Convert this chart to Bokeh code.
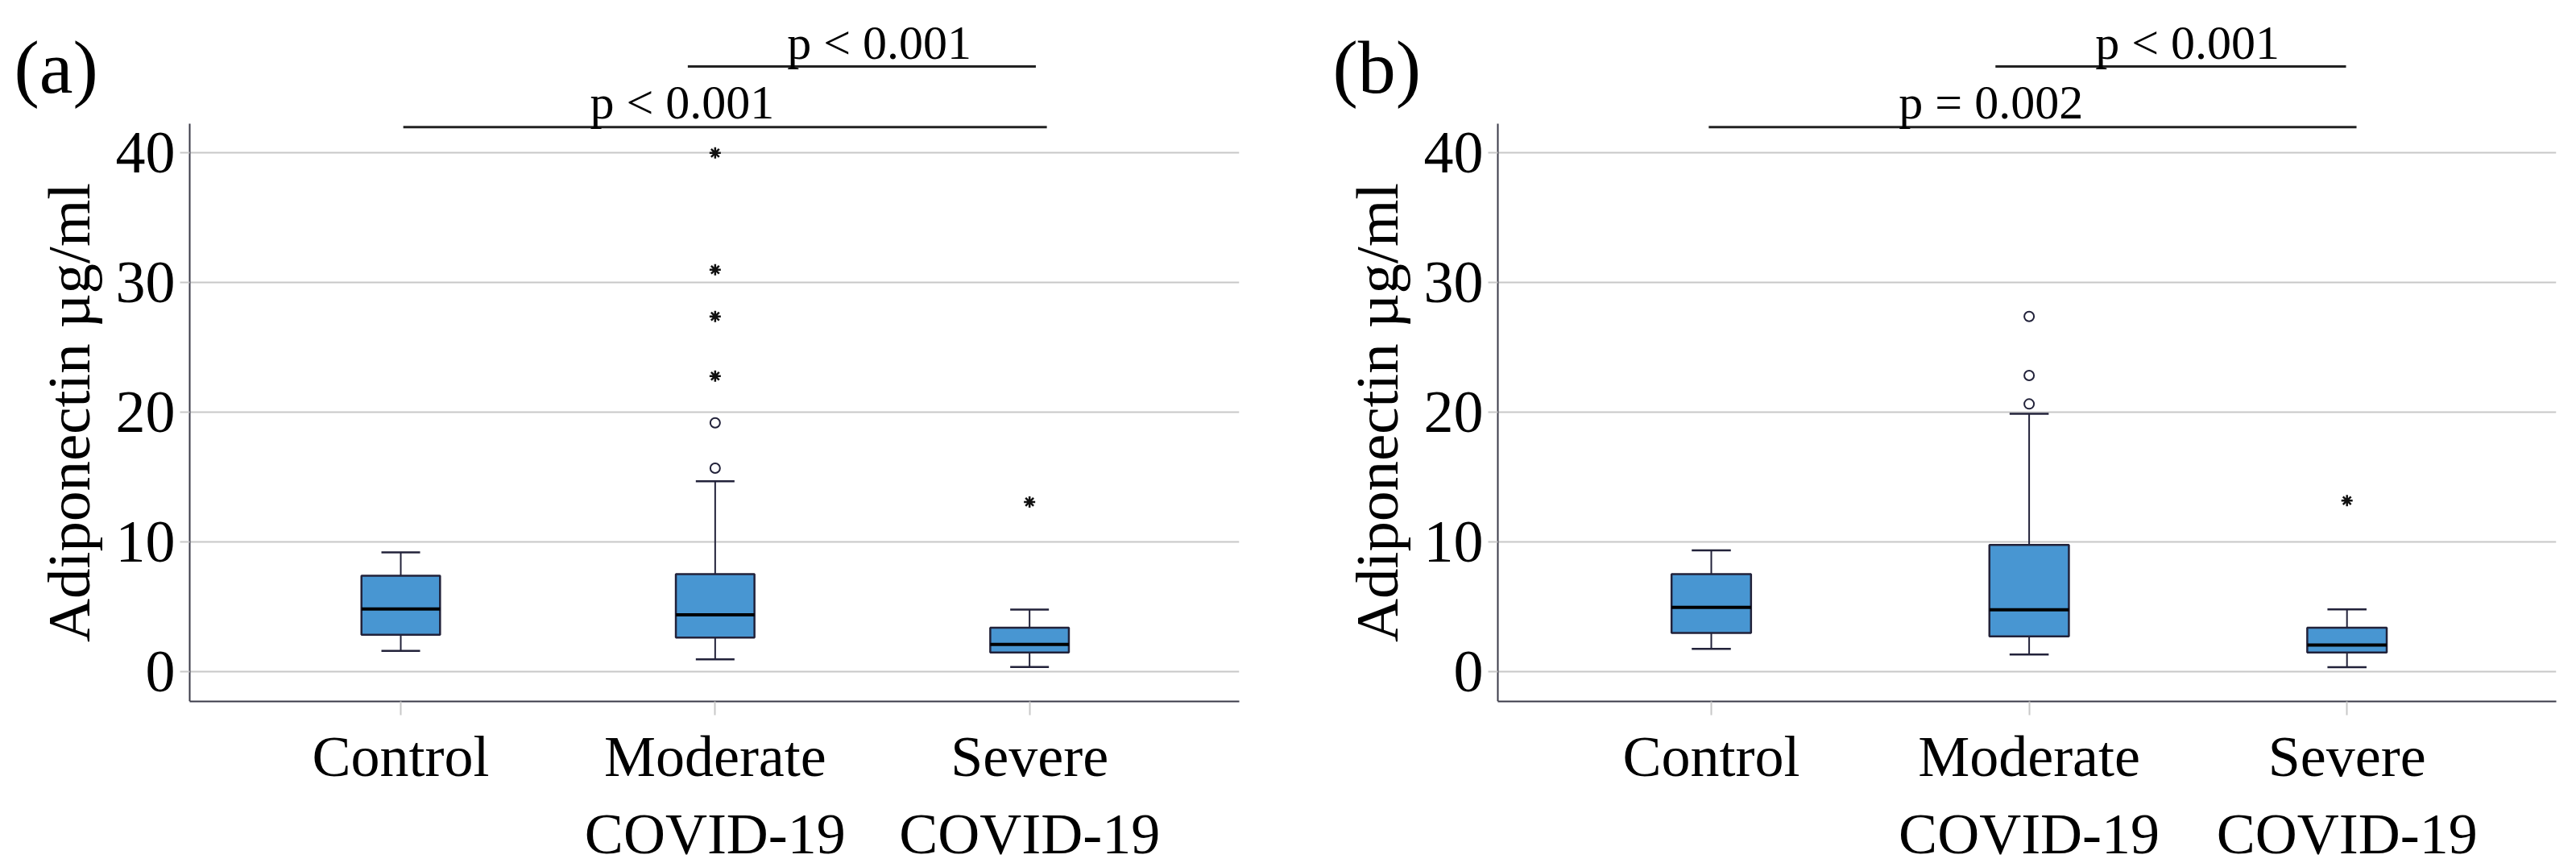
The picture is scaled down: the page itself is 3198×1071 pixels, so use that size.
from bokeh.plotting import figure
from bokeh.models import Range1d
from bokeh.layouts import row
from bokeh.embed import file_html
from bokeh.resources import INLINE
from bokeh.core.properties import value

# ---------------- data ----------------
positions = [1, 2, 3]
categories = ["Control", "Moderate\nCOVID-19", "Severe\nCOVID-19"]
y_ticks = [0, 10, 20, 30, 40]
y_label = "Adiponectin µg/ml"

# panel (a)
a_low = [1.61, 0.97, 0.37]
a_q1 = [2.86, 2.65, 1.49]
a_med = [4.84, 4.39, 2.11]
a_q3 = [7.41, 7.53, 3.41]
a_high = [9.21, 14.7, 4.80]
a_circle_x = [2, 2]
a_circle_y = [19.2, 15.7]
a_star_x = [2, 2, 2, 2, 3]
a_star_y = [40.0, 31.0, 27.4, 22.8, 13.1]
a_sig_text = ["p < 0.001", "p < 0.001"]

# panel (b)
b_low = [1.78, 1.34, 0.36]
b_q1 = [3.00, 2.73, 1.49]
b_med = [4.97, 4.78, 2.07]
b_q3 = [7.53, 9.79, 3.41]
b_high = [9.36, 19.9, 4.81]
b_circle_x = [2, 2, 2]
b_circle_y = [27.4, 22.85, 20.65]
b_star_x = [3]
b_star_y = [13.2]
b_sig_text = ["p = 0.002", "p < 0.001"]

# ---------------- layout / style ----------------
FONT = "Liberation Serif"
BOX_FILL = "#4896d2"
BOX_LINE = "#22223a"
GRID = "#c8c8c8"
AXIS = "#3a3a48"
Y_BOTTOM, Y_AXIS_TOP, Y_TOP = -2.28, 42.24, 51.76
BOX_W = 0.25
CAP_HALF = 0.0615

geom_a = dict(fw=1538, xr=(-0.2734, 3.667), rb=22, axis_x=0.3287, tag="(a)", tag_x=-0.2298,
              bars=[(1.008, 3.055, 42.0), (1.913, 3.02, 46.67)],
              texts=[(1.895, 43.92), (2.522, 48.53)])
geom_b = dict(fw=1613, xr=(-0.4293, 3.6584), rb=10, axis_x=0.3284, tag="(b)", tag_x=-0.191,
              bars=[(0.992, 3.03, 42.0), (1.894, 2.997, 46.67)],
              texts=[(1.880, 43.92), (2.498, 48.53)])


def make_panel(low, q1, med, q3, high, cx, cy, sx, sy, sig_text, g):
    p = figure(frame_width=g["fw"], frame_height=870,
               x_range=Range1d(*g["xr"]), y_range=Range1d(Y_BOTTOM, Y_TOP),
               output_backend="svg", toolbar_location=None,
               min_border_left=0, min_border_right=g["rb"],
               min_border_top=0, min_border_bottom=10)
    p.outline_line_color = None
    p.background_fill_color = "white"
    p.border_fill_color = "white"
    ax = g["axis_x"]
    x_end = g["xr"][1]

    # y axis drawn inside the frame at the data position of the axis line
    p.yaxis.fixed_location = ax
    p.yaxis.bounds = (Y_BOTTOM, Y_AXIS_TOP)
    p.yaxis.ticker = y_ticks
    p.yaxis.axis_line_color = AXIS
    p.yaxis.axis_line_width = 2
    p.yaxis.major_tick_line_color = GRID
    p.yaxis.major_tick_line_width = 2
    p.yaxis.major_tick_out = 12
    p.yaxis.major_tick_in = 0
    p.yaxis.minor_tick_line_color = None
    p.yaxis.major_label_standoff = 6
    p.yaxis.major_label_text_font = FONT
    p.yaxis.major_label_text_font_size = "74px"
    p.yaxis.major_label_text_color = "black"
    p.yaxis.axis_label = y_label
    p.yaxis.axis_label_text_font = FONT
    p.yaxis.axis_label_text_font_size = "75px"
    p.yaxis.axis_label_text_font_style = "normal"
    p.yaxis.axis_label_text_color = "black"
    p.yaxis.axis_label_standoff = 14

    # grid
    p.xgrid.visible = False
    p.ygrid.grid_line_color = GRID
    p.ygrid.grid_line_width = 2
    try:
        p.ygrid.cross_bounds = (ax, x_end)
    except Exception:
        p.ygrid.visible = False
        p.segment(x0=[ax] * len(y_ticks), y0=y_ticks, x1=[x_end] * len(y_ticks), y1=y_ticks,
                  line_color=GRID, line_width=2, level="underlay")

    # x axis
    p.xaxis.bounds = (ax, x_end)
    p.xaxis.ticker = positions
    p.xaxis.major_label_overrides = dict(zip(positions, categories))
    p.xaxis.axis_line_color = AXIS
    p.xaxis.axis_line_width = 2
    p.xaxis.major_tick_line_color = GRID
    p.xaxis.major_tick_line_width = 2
    p.xaxis.major_tick_out = 17
    p.xaxis.major_tick_in = 0
    p.xaxis.minor_tick_line_color = None
    p.xaxis.major_label_standoff = 11
    p.xaxis.major_label_text_font = FONT
    p.xaxis.major_label_text_font_size = "72px"
    p.xaxis.major_label_text_color = "black"

    # whiskers and caps
    p.segment(x0=positions, y0=q3, x1=positions, y1=high, line_color=BOX_LINE, line_width=2)
    p.segment(x0=positions, y0=q1, x1=positions, y1=low, line_color=BOX_LINE, line_width=2)
    p.segment(x0=[x - CAP_HALF for x in positions], y0=high,
              x1=[x + CAP_HALF for x in positions], y1=high, line_color=BOX_LINE, line_width=2.5)
    p.segment(x0=[x - CAP_HALF for x in positions], y0=low,
              x1=[x + CAP_HALF for x in positions], y1=low, line_color=BOX_LINE, line_width=2.5)

    # boxes
    p.vbar(x=positions, width=BOX_W, bottom=q1, top=q3,
           fill_color=BOX_FILL, line_color=BOX_LINE, line_width=2.5)
    p.segment(x0=[x - BOX_W / 2 for x in positions], y0=med,
              x1=[x + BOX_W / 2 for x in positions], y1=med, line_color="black", line_width=4)

    # outliers
    p.scatter(x=cx, y=cy, marker="circle", size=12, fill_color="white",
              line_color=BOX_LINE, line_width=2)
    p.scatter(x=sx, y=sy, marker="asterisk", size=14, line_color="#111111", line_width=2.5)

    # significance bars
    for (x0, x1, y) in g["bars"]:
        p.segment(x0=[x0], y0=[y], x1=[x1], y1=[y], line_color="#222222", line_width=3)
    p.text(x=[t[0] for t in g["texts"]], y=[t[1] for t in g["texts"]], text=sig_text,
           text_font=value(FONT), text_font_size="60px", text_align="center",
           text_baseline="middle", text_color="black")

    # panel tag
    p.text(x=[g["tag_x"]], y=[46.63], text=[g["tag"]], text_font=value(FONT),
           text_font_size="94px", text_align="left", text_baseline="middle",
           text_color="black")
    return p


pa = make_panel(a_low, a_q1, a_med, a_q3, a_high, a_circle_x, a_circle_y,
                a_star_x, a_star_y, a_sig_text, geom_a)
pb = make_panel(b_low, b_q1, b_med, b_q3, b_high, b_circle_x, b_circle_y,
                b_star_x, b_star_y, b_sig_text, geom_b)

layout = row(pa, pb)
open("out.html", "w").write(file_html(layout, INLINE))
